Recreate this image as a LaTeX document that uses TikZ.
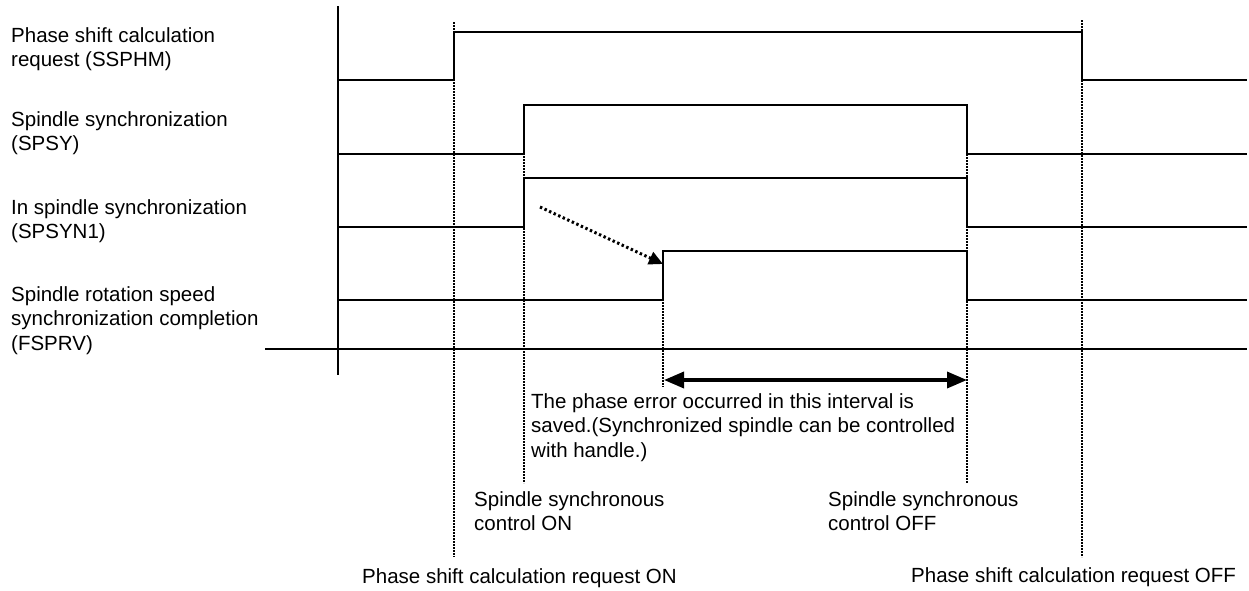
\documentclass[tikz,border=0pt]{standalone}
\usepackage{fontspec}
\setmainfont{Liberation Sans}
\usetikzlibrary{arrows.meta}
\begin{document}
\begin{tikzpicture}[x=1pt,y=-1pt,
  sig/.style={line width=2pt, line join=miter},
  axis/.style={line width=2pt},
  guide/.style={line width=2.3pt, dash pattern=on 1.9pt off 1.1pt},
  lbl/.style={anchor=north west, inner sep=0pt, align=left, font=\fontsize{20.5}{24.5}\selectfont},
  cause/.style={line width=3pt, dash pattern=on 2.4pt off 2.6pt, -{Triangle[length=14pt,width=13pt]}},
  span/.style={line width=3.5pt, {Triangle[length=20pt,width=16pt]}-{Triangle[length=20pt,width=16pt]}}]
\useasboundingbox (0,0) rectangle (1249,590);
\fill[white] (0,0) rectangle (1249,590);

% labels
\node[lbl] (l1) at (11,27) {Phase shift calculation\\request (SSPHM)};
\node[lbl] (l2) at (11,111) {Spindle synchronization\\(SPSY)};
\node[lbl] (l3) at (11,199) {In spindle synchronization\\(SPSYN1)};
\node[lbl] (l4) at (11,286) {Spindle rotation speed\\synchronization completion\\(FSPRV)};

% guide (dotted) lines
\coordinate (g1t) at (454,22);  \coordinate (g1b) at (454,557);
\coordinate (g2t) at (524,105); \coordinate (g2b) at (524,483);
\coordinate (g3t) at (663,251); \coordinate (g3b) at (663,387);
\coordinate (g4t) at (967,154); \coordinate (g4b) at (967,483);
\coordinate (g5t) at (1082,20); \coordinate (g5b) at (1082,557);
\draw[guide] (g1t) -- (g1b);
\draw[guide] (g2t) -- (g2b);
\draw[guide] (g3t) -- (g3b);
\draw[guide] (g4t) -- (g4b);
\draw[guide] (g5t) -- (g5b);

% axes
\coordinate (at) at (338,6); \coordinate (ab) at (338,375);
\coordinate (bl) at (265,349); \coordinate (br) at (1247,349);
\draw[axis] (at) -- (ab);
\draw[axis] (bl) -- (br);

% signals
\draw[sig] (338,80) -- (454,80) -- (454,32) -- (1082,32) -- (1082,80) -- (1247,80);
\draw[sig] (338,154) -- (524,154) -- (524,105) -- (967,105) -- (967,154) -- (1247,154);
\draw[sig] (338,227) -- (524,227) -- (524,178) -- (967,178) -- (967,227) -- (1247,227);
\draw[sig] (338,300) -- (663,300) -- (663,251) -- (967,251) -- (967,300) -- (1247,300);

% cause arrow
\coordinate (cs) at (540,207); \coordinate (ce) at (663,264);
\draw[cause] (cs) -- (ce);

% interval arrow
\coordinate (sl) at (664,380); \coordinate (sr) at (967,380);
\draw[span] (sl) -- (sr);

% texts
\node[lbl] (t1) at (531,393) {The phase error occurred in this interval is\\saved.(Synchronized spindle can be controlled\\with handle.)};
\node[lbl] (t2) at (474,491) {Spindle synchronous\\control ON};
\node[lbl] (t3) at (828,491) {Spindle synchronous\\control OFF};
\node[lbl] (t4) at (362,568) {Phase shift calculation request ON};
\node[lbl] (t5) at (911,567) {Phase shift calculation request OFF};
\end{tikzpicture}
\end{document}
